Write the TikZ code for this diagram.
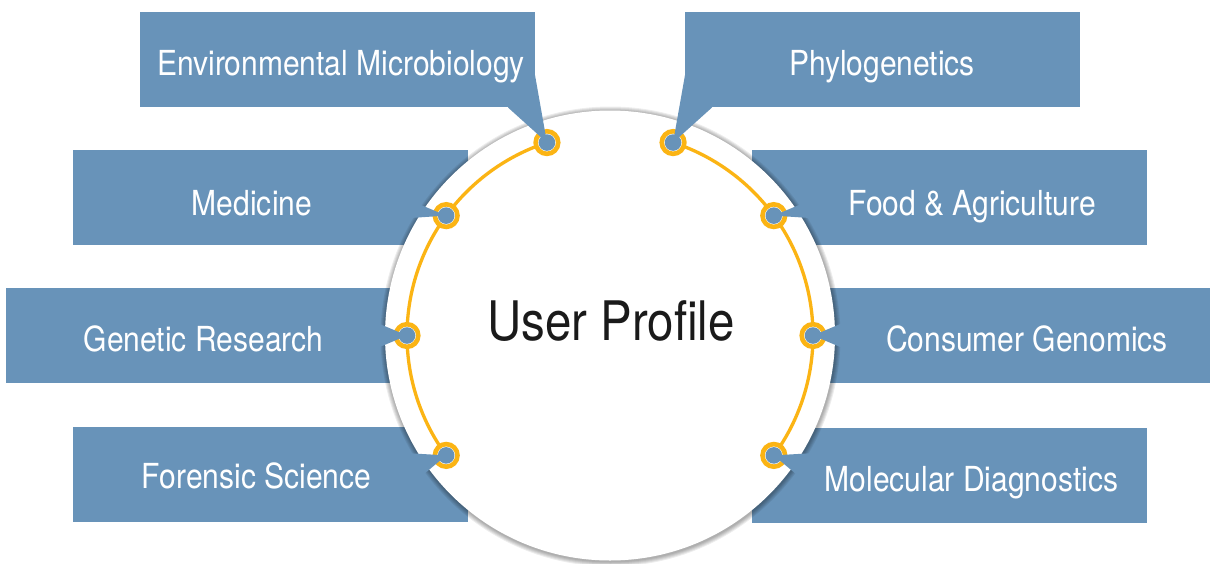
\documentclass[tikz,border=0pt]{standalone}
\usepackage{fontspec}
\setmainfont{TeX Gyre Heros}[FakeStretch=0.87]
\usetikzlibrary{calc}
\definecolor{boxblue}{RGB}{104,147,185}
\definecolor{ringorange}{RGB}{251,180,20}
\definecolor{darktext}{RGB}{26,26,26}
\tikzset{
  catbox/.style={rectangle, fill=boxblue, inner sep=0pt},
  cattext/.style={anchor=base, text=white, inner sep=0pt, font=\fontsize{34.5}{40}\selectfont},
  ringnode/.style={circle, draw=ringorange, line width=4.6pt, fill=white, minimum size=22.6pt, inner sep=0pt},
  dotnode/.style={circle, fill=boxblue, minimum size=16.6pt, inner sep=0pt},
  pointer/.style={fill=boxblue},
  arcline/.style={draw=ringorange, line width=3.3pt},
}
\begin{document}
\begin{tikzpicture}[x=1pt,y=-1pt]
\useasboundingbox[fill=white] (0,0) rectangle (1210,563);
% boxes
\node[catbox, minimum width=395pt, minimum height=95pt, anchor=north west] (benv) at (140,12) {};
\node[catbox, minimum width=395pt, minimum height=95pt, anchor=north west] (bphy) at (685,12) {};
\node[catbox, minimum width=395pt, minimum height=95pt, anchor=north west] (bmed) at (73,150) {};
\node[catbox, minimum width=395pt, minimum height=95pt, anchor=north west] (bfood) at (752,150) {};
\node[catbox, minimum width=395pt, minimum height=95pt, anchor=north west] (bgen) at (6,288) {};
\node[catbox, minimum width=395pt, minimum height=95pt, anchor=north west] (bcons) at (815,288) {};
\node[catbox, minimum width=395pt, minimum height=95pt, anchor=north west] (bfor) at (73,427) {};
\node[catbox, minimum width=395pt, minimum height=95pt, anchor=north west] (bmol) at (752,428) {};
% circle shadow
\coordinate (c) at (610,335.5);
\coordinate (cs) at (610.5,336.5);
\foreach \k in {1,...,5}{
  \fill[black, opacity=0.07] (cs) circle[radius={225pt+\k pt}];
}
\node[circle, fill=white, minimum size=450pt, inner sep=0pt] (main) at (c) {};
% arcs
\draw[arcline] ($(c)+(108.1:203pt)$) arc[start angle=108.1, end angle=216.2, radius=203pt];
\draw[arcline] ($(c)+(71.9:203pt)$) arc[start angle=71.9, end angle=-36.2, radius=203pt];
% rings
\node[ringnode] (renv) at ($(c)+(108.1:203pt)$) {};
\node[ringnode] (rphy) at ($(c)+(71.9:203pt)$) {};
\node[ringnode] (rmed) at ($(c)+(143.8:203pt)$) {};
\node[ringnode] (rfood) at ($(c)+(36.2:203pt)$) {};
\node[ringnode] (rgen) at ($(c)+(180:203pt)$) {};
\node[ringnode] (rcons) at ($(c)+(0:203pt)$) {};
\node[ringnode] (rfor) at ($(c)+(216.2:203pt)$) {};
\node[ringnode] (rmol) at ($(c)+(-36.2:203pt)$) {};
% pointer base coordinates
\coordinate (penv1) at (508,107.5); \coordinate (penv2) at (535,75);
\coordinate (pphy1) at (712,107.5); \coordinate (pphy2) at (685,75);
\coordinate (pmed1) at (395,194); \coordinate (pmed2) at (395,219);
\coordinate (pfood1) at (825,194); \coordinate (pfood2) at (825,219);
\coordinate (pgen1) at (375,322); \coordinate (pgen2) at (375,349);
\coordinate (pcons1) at (845,322); \coordinate (pcons2) at (845,349);
\coordinate (pfor1) at (405,453); \coordinate (pfor2) at (405,490);
\coordinate (pmol1) at (815,453); \coordinate (pmol2) at (815,490);
% pointers
\fill[pointer] (penv1) -- (renv.center) -- (penv2) -- cycle;
\fill[pointer] (pphy1) -- (rphy.center) -- (pphy2) -- cycle;
\fill[pointer] (pmed1) -- (rmed.center) -- (pmed2) -- cycle;
\fill[pointer] (pfood1) -- (rfood.center) -- (pfood2) -- cycle;
\fill[pointer] (pgen1) -- (rgen.center) -- (pgen2) -- cycle;
\fill[pointer] (pcons1) -- (rcons.center) -- (pcons2) -- cycle;
\fill[pointer] (pfor1) -- (rfor.center) -- (pfor2) -- cycle;
\fill[pointer] (pmol1) -- (rmol.center) -- (pmol2) -- cycle;
% dots
\foreach \r in {renv,rphy,rmed,rfood,rgen,rcons,rfor,rmol}{
  \node[dotnode] (d\r) at (\r.center) {};
}
% texts
\node[cattext] (tenv) at (341,75) {Environmental Microbiology};
\node[cattext] (tphy) at (882,75) {Phylogenetics};
\node[cattext] (tmed) at (252,215) {Medicine};
\node[cattext] (tfood) at (972,215) {Food \& Agriculture};
\node[cattext] (tgen) at (203.5,351) {Genetic Research};
\node[cattext] (tcons) at (1027,351) {Consumer Genomics};
\node[cattext] (tfor) at (256.5,488) {Forensic Science};
\node[cattext] (tmol) at (971.5,491) {Molecular Diagnostics};
\node[anchor=base, inner sep=0pt, text=darktext, font=\fontsize{54.5}{60}\selectfont] (tuser) at (611,340) {User Profile};
\end{tikzpicture}
\end{document}
